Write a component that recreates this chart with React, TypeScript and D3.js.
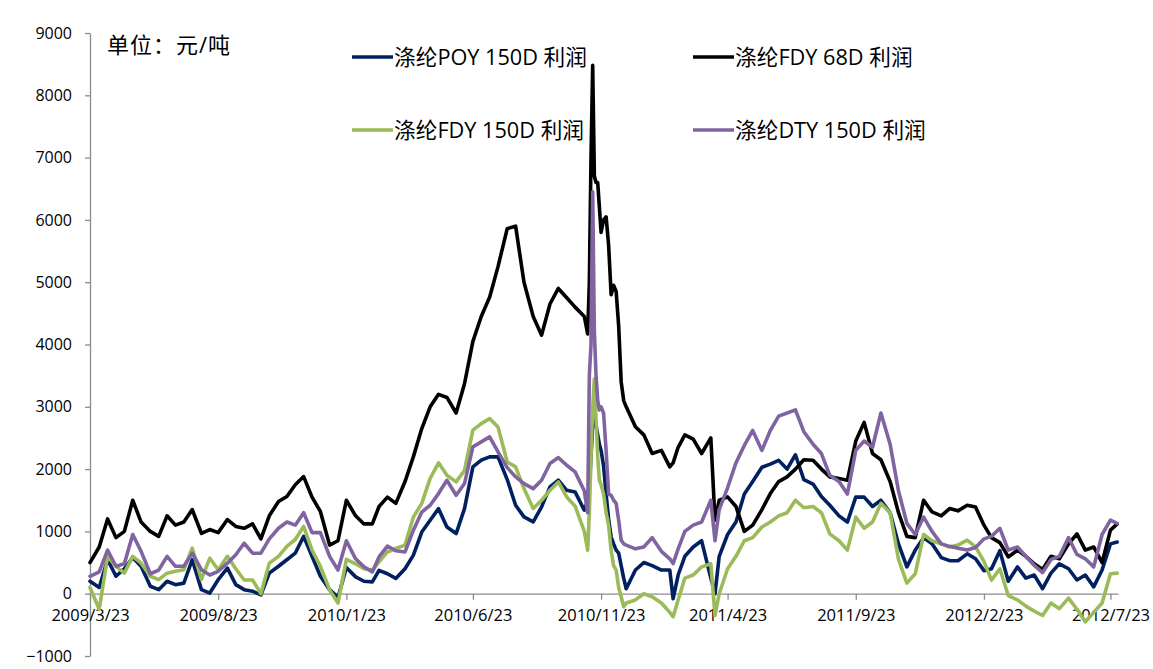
import React, { useEffect, useRef } from 'react';
import * as d3 from 'd3';

// sample dates (roughly every 10 days, denser around the Nov 2010 spike)
const dates = [
  '2009-03-23', '2009-04-03', '2009-04-13', '2009-04-23', '2009-05-03', '2009-05-13', '2009-05-23',
  '2009-06-03', '2009-06-13', '2009-06-23', '2009-07-03', '2009-07-13', '2009-07-23', '2009-08-03',
  '2009-08-13', '2009-08-23', '2009-09-03', '2009-09-13', '2009-09-23', '2009-10-03', '2009-10-13',
  '2009-10-23', '2009-11-03', '2009-11-13', '2009-11-23', '2009-12-03', '2009-12-13', '2009-12-23',
  '2010-01-03', '2010-01-13', '2010-01-23', '2010-02-03', '2010-02-13', '2010-02-23', '2010-03-03',
  '2010-03-13', '2010-03-23', '2010-04-03', '2010-04-13', '2010-04-23', '2010-05-03', '2010-05-13',
  '2010-05-23', '2010-06-03', '2010-06-13', '2010-06-23', '2010-07-03', '2010-07-13', '2010-07-23',
  '2010-08-03', '2010-08-13', '2010-08-23', '2010-09-03', '2010-09-13', '2010-09-23', '2010-10-03',
  '2010-10-13', '2010-10-23', '2010-11-03', '2010-11-07', '2010-11-09', '2010-11-11', '2010-11-13',
  '2010-11-15', '2010-11-17', '2010-11-19', '2010-11-21', '2010-11-23', '2010-11-26', '2010-11-29',
  '2010-12-02', '2010-12-05', '2010-12-08', '2010-12-11', '2010-12-14', '2010-12-17', '2010-12-20',
  '2010-12-23', '2011-01-03', '2011-01-13', '2011-01-23', '2011-02-03', '2011-02-13', '2011-02-17',
  '2011-02-23', '2011-03-03', '2011-03-13', '2011-03-23', '2011-04-03', '2011-04-08', '2011-04-13',
  '2011-04-23', '2011-05-03', '2011-05-13', '2011-05-23', '2011-06-03', '2011-06-13', '2011-06-23',
  '2011-07-03', '2011-07-13', '2011-07-23', '2011-08-03', '2011-08-13', '2011-08-23', '2011-09-03',
  '2011-09-13', '2011-09-23', '2011-10-03', '2011-10-13', '2011-10-23', '2011-11-03', '2011-11-13',
  '2011-11-23', '2011-12-03', '2011-12-13', '2011-12-23', '2012-01-03', '2012-01-13', '2012-01-23',
  '2012-02-03', '2012-02-13', '2012-02-23', '2012-03-03', '2012-03-13', '2012-03-23', '2012-04-03',
  '2012-04-13', '2012-04-23', '2012-05-03', '2012-05-13', '2012-05-23', '2012-06-03', '2012-06-13',
  '2012-06-23', '2012-07-03', '2012-07-13', '2012-07-23', '2012-07-31'
];

const poy150 = [
  200, 100, 550, 280, 400, 580, 440, 120, 65, 200, 145, 170, 545, 65, 10, 225, 410, 145, 65, 40, -20,
  330, 440, 545, 650, 920, 600, 280, 65, -60, 420, 270, 200, 190, 375, 320, 245, 400, 620, 990, 1180,
  1365, 1070, 965, 1365, 2035, 2143, 2196, 2196, 1832, 1420, 1233, 1152, 1393, 1714, 1821, 1660, 1634,
  1340, 1500, 1700, 2200, 2700, 2800, 2700, 2550, 2400, 2300, 2050, 1600, 1200, 910, 800, 700, 650,
  450, 250, 80, 380, 500, 450, 380, 380, -80, 300, 600, 750, 850, 250, 0, 600, 950, 1150, 1600, 1800,
  2030, 2080, 2140, 2000, 2230, 1830, 1760, 1560, 1420, 1250, 1150, 1550, 1550, 1400, 1500, 1300, 800,
  430, 700, 900, 800, 580, 530, 530, 640, 560, 370, 400, 690, 200, 430, 250, 300, 80, 330, 480, 400,
  220, 300, 110, 380, 800, 830
];

const fdy68 = [
  500, 750, 1200, 900, 1000, 1500, 1150, 1000, 920, 1250, 1100, 1150, 1350, 970, 1030, 980, 1190, 1080,
  1050, 1120, 880, 1250, 1480, 1560, 1750, 1880, 1550, 1320, 780, 850, 1500, 1250, 1120, 1120, 1400,
  1550, 1450, 1800, 2200, 2650, 3000, 3200, 3150, 2900, 3370, 4050, 4450, 4760, 5250, 5860, 5900, 5000,
  4450, 4150, 4650, 4900, 4750, 4600, 4450, 4170, 5000, 7000, 8480, 6700, 6600, 6600, 6200, 5800, 6000,
  6050, 5600, 4800, 4950, 4850, 4300, 3400, 3100, 3000, 2680, 2550, 2250, 2300, 2035, 2100, 2350, 2550,
  2480, 2250, 2500, 1180, 1500, 1554, 1400, 1000, 1100, 1350, 1607, 1800, 1875, 2000, 2150, 2142, 2000,
  1875, 1848, 1821, 2450, 2750, 2250, 2150, 1800, 1300, 920, 900, 1500, 1313, 1250, 1367, 1330, 1420,
  1390, 1100, 900, 820, 590, 700, 600, 480, 390, 600, 560, 800, 960, 700, 750, 500, 1020, 1120
];

const fdy150 = [
  100, -250, 600, 440, 330, 600, 490, 280, 225, 330, 360, 385, 730, 230, 570, 385, 600, 400, 220, 220, 0,
  490, 600, 760, 870, 1080, 700, 440, 60, -150, 550, 480, 400, 380, 510, 670, 725, 780, 1230, 1450, 1850,
  2100, 1900, 1795, 1980, 2625, 2730, 2810, 2677, 2115, 2035, 1687, 1366, 1500, 1660, 1794, 1553, 1405,
  1000, 700, 1300, 2200, 3000, 3450, 2800, 2200, 1821, 1750, 1600, 1300, 1100, 700, 450, 380, 100, -50,
  -210, -150, -100, 0, -50, -150, -300, -370, -100, 250, 300, 430, 480, -350, 0, 400, 600, 850, 900, 1070,
  1150, 1250, 1300, 1500, 1380, 1400, 1300, 960, 850, 700, 1230, 1050, 1150, 1450, 1300, 550, 170, 320,
  950, 850, 800, 750, 780, 860, 750, 520, 217, 400, -30, -100, -200, -280, -350, -150, -240, -70, -250,
  -450, -300, -150, 320, 330
];

const dty150 = [
  280, 350, 700, 440, 480, 950, 680, 320, 380, 600, 440, 440, 650, 385, 300, 360, 490, 625, 810, 650, 650,
  880, 1050, 1150, 1100, 1300, 980, 980, 600, 380, 850, 560, 430, 350, 590, 765, 690, 670, 1020, 1310,
  1420, 1607, 1820, 1580, 1768, 2357, 2437, 2517, 2276, 2024, 1875, 1767, 1687, 1820, 2089, 2185, 2062,
  1955, 1650, 1300, 3500, 4000, 6450, 4200, 3500, 3100, 2950, 3000, 2900, 2300, 1600, 1580, 1500, 1450,
  1180, 860, 800, 780, 720, 750, 900, 680, 560, 484, 720, 1000, 1100, 1150, 1500, 850, 1350, 1700, 2100,
  2380, 2620, 2300, 2620, 2850, 2900, 2950, 2600, 2400, 2250, 1900, 1800, 1600, 2300, 2450, 2350, 2900,
  2400, 1650, 1130, 950, 1230, 1000, 800, 760, 730, 700, 740, 880, 920, 1050, 700, 750, 600, 456, 340,
  550, 600, 900, 630, 560, 430, 950, 1180, 1130
];

const xTickLabels = [
  '2009/3/23', '2009/8/23', '2010/1/23', '2010/6/23', '2010/11/23',
  '2011/4/23', '2011/9/23', '2012/2/23', '2012/7/23'
];
const yTicks = [-1000, 0, 1000, 2000, 3000, 4000, 5000, 6000, 7000, 8000, 9000];
const seriesNames = ['涤纶POY 150D 利润', '涤纶FDY 68D 利润', '涤纶FDY 150D 利润', '涤纶DTY 150D 利润'];
const colors = ['#002060', '#000000', '#9bbb59', '#8064a2'];
const unitLabel = '单位：元/吨';

const width = 1153;
const height = 669;
const font = '"Open Sans", "Noto Sans CJK SC", sans-serif';

export default function App() {
  const ref = useRef<SVGSVGElement>(null);

  useEffect(() => {
    const svg = d3.select(ref.current);
    svg.selectAll('*').remove();

    const parse = d3.timeParse('%Y-%m-%d');
    const parseTick = d3.timeParse('%Y/%m/%d');
    const xs = dates.map(d => parse(d) as Date);

    const x = d3.scaleTime()
      .domain([parse('2009-03-23') as Date, parse('2012-08-01') as Date])
      .range([90, 1118]);
    const y = d3.scaleLinear()
      .domain([-1000, 9000])
      .range([656, 33]);

    const axisColor = '#8c8c8c';

    // y axis
    const gy = svg.append('g')
      .attr('transform', 'translate(90,0)')
      .call(d3.axisLeft(y).tickValues(yTicks).tickSize(5).tickSizeOuter(0).tickPadding(13).tickFormat(d3.format('d')));
    gy.select('.domain').attr('stroke', axisColor).attr('stroke-width', 1.3);
    gy.selectAll('.tick line').attr('stroke', axisColor).attr('stroke-width', 1.3);
    gy.selectAll('.tick text')
      .attr('font-family', font)
      .attr('font-size', 16)
      .attr('fill', '#000');

    // x axis crossing at zero
    const tickDates = xTickLabels.map(t => parseTick(t) as Date);
    const gx = svg.append('g')
      .attr('transform', `translate(0,${y(0)})`)
      .call(d3.axisBottom(x).tickValues(tickDates).tickSize(6).tickSizeOuter(0).tickPadding(10)
        .tickFormat((d, i) => xTickLabels[i]));
    gx.select('.domain').attr('stroke', axisColor).attr('stroke-width', 1.3);
    gx.selectAll('.tick line').attr('stroke', axisColor).attr('stroke-width', 1.3);
    gx.selectAll('.tick text')
      .attr('font-family', font)
      .attr('font-size', 16.5)
      .attr('fill', '#000');

    // lines (POY first, DTY on top)
    const series = [poy150, fdy68, fdy150, dty150];
    const line = d3.line<number>()
      .x((d, i) => x(xs[i]))
      .y(d => y(d))
      .curve(d3.curveLinear);

    svg.append('g')
      .attr('fill', 'none')
      .attr('stroke-width', 3.6)
      .attr('stroke-linejoin', 'round')
      .attr('stroke-linecap', 'round')
      .selectAll('path')
      .data(series)
      .join('path')
      .attr('stroke', (d, i) => colors[i])
      .attr('d', d => line(d));

    // unit label
    svg.append('text')
      .attr('x', 107)
      .attr('y', 53)
      .attr('font-family', font)
      .attr('font-size', 22)
      .attr('letter-spacing', 1)
      .attr('fill', '#000')
      .text(unitLabel);

    // legend 2x2
    const legendPos = [
      { x: 352, y: 57 },
      { x: 693, y: 57 },
      { x: 352, y: 130 },
      { x: 693, y: 130 }
    ];
    const lg = svg.append('g')
      .selectAll('g')
      .data(seriesNames)
      .join('g')
      .attr('transform', (d, i) => `translate(${legendPos[i].x},${legendPos[i].y})`);
    lg.append('line')
      .attr('x1', 0)
      .attr('x2', 41)
      .attr('y1', 0)
      .attr('y2', 0)
      .attr('stroke', (d, i) => colors[i])
      .attr('stroke-width', 3.6);
    lg.append('text')
      .attr('x', 42)
      .attr('y', 8)
      .attr('font-family', font)
      .attr('font-size', 21.7)
      .attr('fill', '#000')
      .text(d => d);
  }, []);

  return (
    <svg
      ref={ref}
      width={width}
      height={height}
      style={{ position: 'absolute', left: 0, top: 0, background: '#fff' }}
    />
  );
}
